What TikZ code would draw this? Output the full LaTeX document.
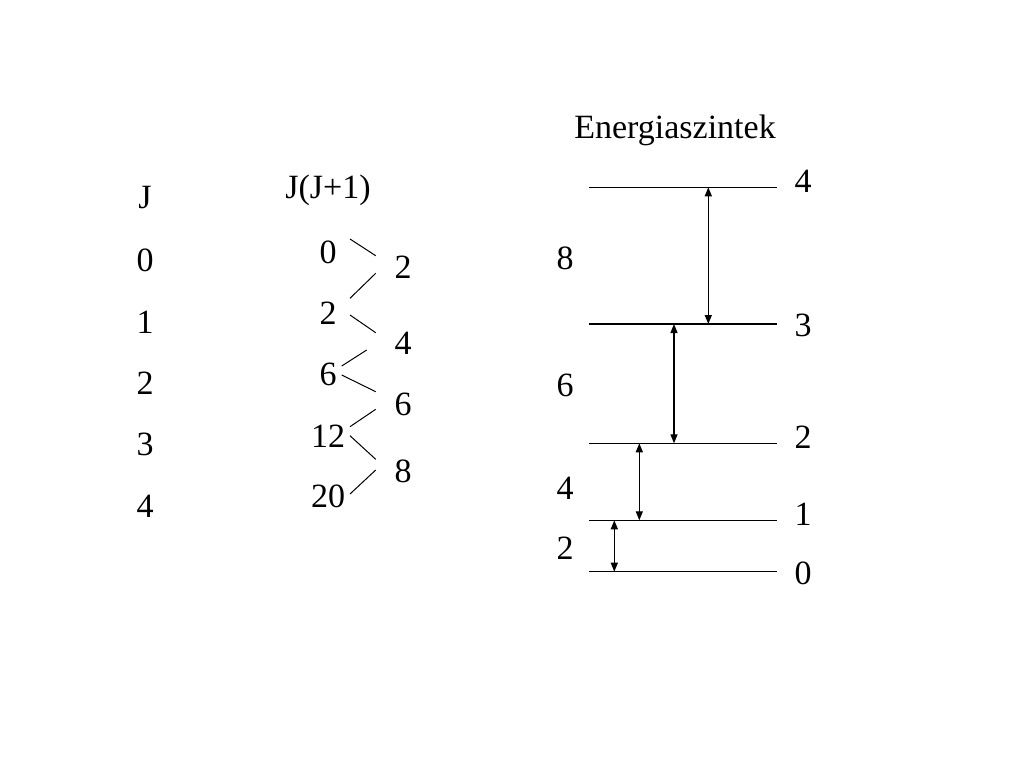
\documentclass[tikz,border=0pt]{standalone}
\usepackage{fontspec}
\setmainfont{Liberation Serif}
\usetikzlibrary{arrows.meta}
\begin{document}
\begin{tikzpicture}[x=1pt,y=-1pt,
  lbl/.style={inner sep=0pt,font=\fontsize{34}{40}\selectfont},
  thin line/.style={line width=1pt},
  level/.style={line width=1.1pt},
  trans/.style={line width=1.3pt,{Triangle[length=9pt,width=7pt]}-{Triangle[length=9pt,width=7pt]}}]
\useasboundingbox[fill=white] (0,0) rectangle (1024,768);
% J column
\node[lbl] (jh) at (145,198) {J};
\node[lbl] (j0) at (145,260) {0};
\node[lbl] (j1) at (145,322) {1};
\node[lbl] (j2) at (145,383) {2};
\node[lbl] (j3) at (145,444) {3};
\node[lbl] (j4) at (145,506) {4};
% J(J+1) column
\node[lbl] (eh) at (328,190) {J(J+1)};
\node[lbl] (e0) at (328,252) {0};
\node[lbl] (e1) at (328,313) {2};
\node[lbl] (e2) at (328,374) {6};
\node[lbl] (e3) at (328,436) {12};
\node[lbl] (e4) at (328,496) {20};
\node[lbl] (d1) at (403,267) {2};
\node[lbl] (d2) at (403,343) {4};
\node[lbl] (d3) at (403,404) {6};
\node[lbl] (d4) at (403,471) {8};
% connector end points
\coordinate (a1) at (350,239);   \coordinate (b1) at (375.7,255.7);
\coordinate (a2) at (375.7,273.3); \coordinate (b2) at (350,298.3);
\coordinate (a3) at (350,315);   \coordinate (b3) at (375.7,332.7);
\coordinate (a4) at (366.7,350); \coordinate (b4) at (341.7,366);
\coordinate (a5) at (341.7,375); \coordinate (b5) at (375.7,391.7);
\coordinate (a6) at (375.7,409.3); \coordinate (b6) at (350,426.7);
\coordinate (a7) at (350,435.7); \coordinate (b7) at (375.7,459.3);
\coordinate (a8) at (375.7,470); \coordinate (b8) at (350,494);
\foreach \i in {1,...,8} {\draw[thin line] (a\i) -- (b\i);}
% Energy levels
\node[lbl] (title) at (675,130) {Energiaszintek};
\coordinate (L4a) at (589,187.3); \coordinate (L4b) at (776.7,187.3);
\coordinate (L3a) at (589,324);   \coordinate (L3b) at (776.7,324);
\coordinate (L2a) at (589,443.3); \coordinate (L2b) at (776.7,443.3);
\coordinate (L1a) at (589,520.3); \coordinate (L1b) at (776.7,520.3);
\coordinate (L0a) at (589,571.7); \coordinate (L0b) at (776.7,571.7);
\foreach \i in {0,...,4} {\draw[level] (L\i a) -- (L\i b);}
\node[lbl] (r4) at (803,181) {4};
\node[lbl] (r3) at (803,325) {3};
\node[lbl] (r2) at (803,437) {2};
\node[lbl] (r1) at (803,514) {1};
\node[lbl] (r0) at (803,573) {0};
\node[lbl] (g8) at (565,258) {8};
\node[lbl] (g6) at (565,385) {6};
\node[lbl] (g4) at (565,488) {4};
\node[lbl] (g2) at (565,548) {2};
\draw[trans] (708.3,187.3) -- (708.3,324);
\draw[trans] (674,324) -- (674,443.3);
\draw[trans] (639.3,443.3) -- (639.3,520.3);
\draw[trans] (614.3,520.3) -- (614.3,571.7);
\end{tikzpicture}
\end{document}
